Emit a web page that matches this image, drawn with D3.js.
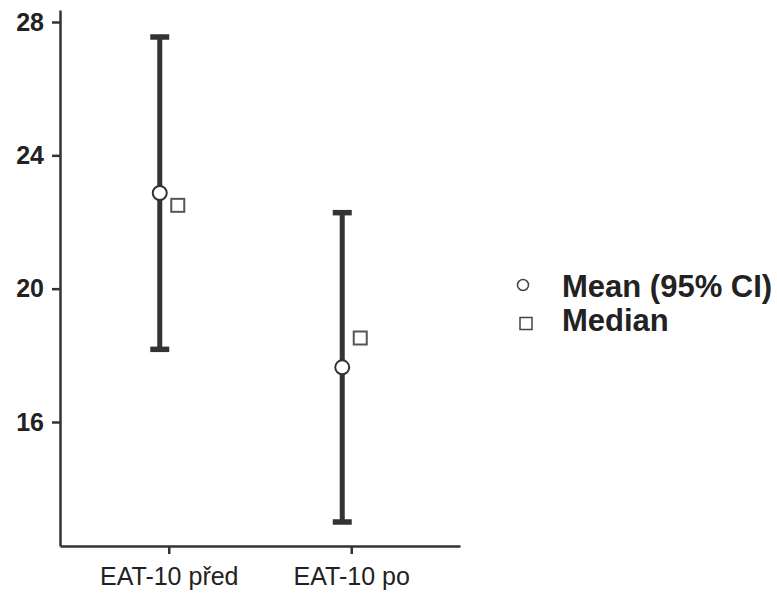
<!DOCTYPE html>
<html>
<head>
<meta charset="utf-8">
<script src="https://cdn.jsdelivr.net/npm/d3@7"></script>
<style>
  html, body { margin: 0; padding: 0; background: #fff; }
  svg { display: block; font-family: "Liberation Sans", Arial, sans-serif; }
</style>
</head>
<body>
<svg id="chart" width="777" height="594"></svg>
<script>
const categories = ["EAT-10 před", "EAT-10 po"];
const meanValues = [22.87, 17.64];
const ciLower = [18.18, 13.0];
const ciUpper = [27.55, 22.28];
const medianValues = [22.5, 18.52];
const yTicks = [16, 20, 24, 28];
const legendLabels = ["Mean (95% CI)", "Median"];

const svg = d3.select("#chart");
const ink = "#333";
const fontFam = "'Liberation Sans', Arial, sans-serif";

const x = d3.scalePoint().domain(categories).range([60, 460]).padding(0.596);
const y = d3.scaleLinear().domain([12.28, 28.36]).range([546, 10]);

// Y axis
const yAxis = svg.append("g").attr("transform", "translate(60,0)")
  .call(d3.axisLeft(y).tickValues(yTicks).tickSize(8).tickSizeOuter(0).tickPadding(8).tickFormat(d3.format("d")));
yAxis.select(".domain").attr("stroke", ink).attr("stroke-width", 2.5);
yAxis.selectAll(".tick line").attr("stroke", ink).attr("stroke-width", 2.5);
yAxis.selectAll(".tick text").attr("fill", "#222").attr("font-size", 25).attr("font-weight", "bold")
  .attr("font-family", fontFam);

// X axis
const xAxis = svg.append("g").attr("transform", "translate(0,546)")
  .call(d3.axisBottom(x).tickSize(8).tickPadding(13).tickSizeOuter(0));
xAxis.select(".domain").attr("stroke", ink).attr("stroke-width", 2.5);
xAxis.selectAll(".tick line").attr("stroke", ink).attr("stroke-width", 2.5);
xAxis.selectAll(".tick text").attr("fill", "#222").attr("font-size", 25)
  .attr("font-family", fontFam);

const dodge = 9;
const capW = 19;

const data = categories.map((c, i) => ({
  c, mean: meanValues[i], lo: ciLower[i], hi: ciUpper[i], med: medianValues[i]
}));

const g = svg.append("g");
// Error bars
g.selectAll(".ci").data(data).join("line")
  .attr("x1", d => x(d.c) - dodge).attr("x2", d => x(d.c) - dodge)
  .attr("y1", d => y(d.lo)).attr("y2", d => y(d.hi))
  .attr("stroke", ink).attr("stroke-width", 5);
g.selectAll(".capHi").data(data).join("line")
  .attr("x1", d => x(d.c) - dodge - capW / 2).attr("x2", d => x(d.c) - dodge + capW / 2)
  .attr("y1", d => y(d.hi)).attr("y2", d => y(d.hi))
  .attr("stroke", ink).attr("stroke-width", 5.5);
g.selectAll(".capLo").data(data).join("line")
  .attr("x1", d => x(d.c) - dodge - capW / 2).attr("x2", d => x(d.c) - dodge + capW / 2)
  .attr("y1", d => y(d.lo)).attr("y2", d => y(d.lo))
  .attr("stroke", ink).attr("stroke-width", 5.5);

// Mean circles
g.selectAll(".mean").data(data).join("circle")
  .attr("cx", d => x(d.c) - dodge).attr("cy", d => y(d.mean)).attr("r", 7)
  .attr("fill", "#fff").attr("stroke", ink).attr("stroke-width", 2);

// Median squares
const sq = 13;
g.selectAll(".median").data(data).join("rect")
  .attr("x", d => x(d.c) + dodge - sq / 2).attr("y", d => y(d.med) - sq / 2)
  .attr("width", sq).attr("height", sq)
  .attr("fill", "#fff").attr("stroke", "#555").attr("stroke-width", 2);

// Legend
const leg = svg.append("g");
leg.append("circle").attr("cx", 523).attr("cy", 285).attr("r", 5.5)
  .attr("fill", "#fff").attr("stroke", "#444").attr("stroke-width", 1.5);
leg.append("rect").attr("x", 520).attr("y", 317.5).attr("width", 12).attr("height", 12)
  .attr("fill", "#fff").attr("stroke", "#444").attr("stroke-width", 1.5);
leg.selectAll("text").data(legendLabels).join("text")
  .attr("x", 562).attr("y", (d, i) => 297 + i * 34)
  .attr("font-size", 31).attr("font-weight", "bold").attr("fill", "#222")
  .attr("font-family", fontFam)
  .text(d => d);
</script>
</body>
</html>
